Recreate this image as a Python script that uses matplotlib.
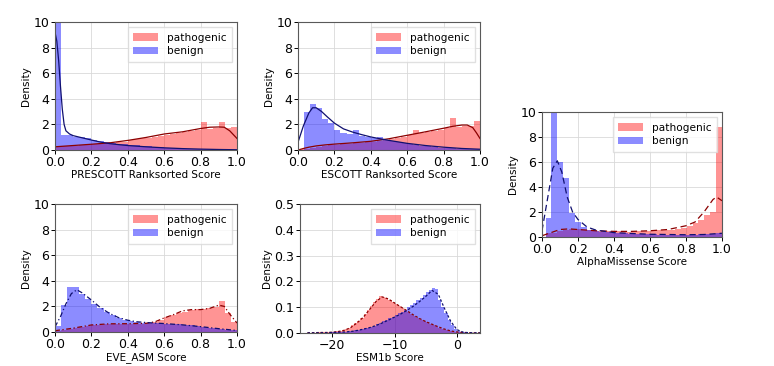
import numpy as np
import matplotlib
matplotlib.use("Agg")
import matplotlib.pyplot as plt
from matplotlib.patches import Patch

# ---- PRESCOTT ranksorted score (30 bins on [0, 1]) ----
prescott_path = [0.25, 0.28, 0.30, 0.33, 0.36, 0.40, 0.44, 0.48, 0.52, 0.56,
                 0.60, 0.66, 0.80, 0.86, 0.90, 0.95, 1.05, 1.12, 1.20, 1.28,
                 1.33, 1.38, 1.45, 1.55, 2.20, 1.65, 1.70, 2.20, 1.75, 1.80]
prescott_ben = [12.0, 1.15, 1.15, 1.05, 0.98, 0.90, 0.82, 0.74, 0.66, 0.58,
                0.50, 0.45, 0.40, 0.36, 0.32, 0.28, 0.24, 0.20, 0.17, 0.15,
                0.13, 0.11, 0.09, 0.08, 0.07, 0.06, 0.05, 0.04, 0.03, 0.02]
prescott_kde_p_x = [0, 0.1, 0.2, 0.3, 0.4, 0.5, 0.6, 0.7, 0.8, 0.85, 0.9, 0.93, 0.96, 1.0]
prescott_kde_p_y = [0.25, 0.35, 0.45, 0.56, 0.75, 0.98, 1.25, 1.42, 1.68, 1.78, 1.80, 1.78, 1.50, 0.90]
prescott_kde_b_x = [0, 0.01, 0.02, 0.03, 0.04, 0.05, 0.06, 0.08, 0.1, 0.15, 0.2, 0.25,
                    0.3, 0.35, 0.4, 0.5, 0.6, 0.7, 0.8, 0.9, 1.0]
prescott_kde_b_y = [9.2, 8.5, 7.0, 5.0, 3.2, 2.0, 1.5, 1.25, 1.12, 0.95, 0.78, 0.62,
                    0.50, 0.42, 0.35, 0.25, 0.17, 0.11, 0.07, 0.04, 0.02]

# ---- ESCOTT ranksorted score ----
escott_path = [0.05, 0.10, 0.18, 0.26, 0.32, 0.37, 0.42, 0.46, 0.50, 0.53,
               0.57, 0.61, 0.66, 0.72, 0.80, 0.88, 0.96, 1.04, 1.15, 1.60,
               1.30, 1.40, 1.50, 1.60, 1.70, 2.50, 1.80, 1.90, 1.85, 2.30]
escott_ben = [0.0, 3.0, 3.6, 3.25, 2.45, 2.1, 1.6, 1.35, 1.25, 1.55,
              1.10, 1.00, 0.92, 1.00, 0.78, 0.70, 0.62, 0.55, 0.48, 0.40,
              0.34, 0.28, 0.23, 0.19, 0.15, 0.12, 0.09, 0.07, 0.05, 0.04]
escott_kde_p_x = [0, 0.03, 0.06, 0.1, 0.15, 0.2, 0.3, 0.4, 0.5, 0.6, 0.7, 0.8,
                  0.85, 0.9, 0.93, 0.96, 0.98, 1.0]
escott_kde_p_y = [0.0, 0.12, 0.22, 0.32, 0.40, 0.46, 0.56, 0.68, 0.88, 1.15, 1.42, 1.70,
                  1.85, 1.95, 1.95, 1.75, 1.35, 0.90]
escott_kde_b_x = [0, 0.03, 0.06, 0.08, 0.1, 0.13, 0.16, 0.2, 0.25, 0.3, 0.35, 0.4,
                  0.45, 0.5, 0.6, 0.7, 0.8, 0.9, 1.0]
escott_kde_b_y = [0.6, 1.9, 2.9, 3.3, 3.3, 3.0, 2.6, 2.1, 1.65, 1.4, 1.2, 1.02,
                  0.88, 0.75, 0.52, 0.35, 0.22, 0.12, 0.06]

# ---- AlphaMissense score (30 bins on [0.02, 1]) ----
am_path = [0.30, 0.35, 0.50, 0.60, 0.65, 0.62, 0.58, 0.55, 0.52, 0.50,
           0.48, 0.46, 0.45, 0.44, 0.44, 0.45, 0.46, 0.48, 0.50, 0.53,
           0.56, 0.60, 0.66, 0.75, 0.88, 1.10, 1.40, 1.80, 2.00, 8.80]
am_ben = [1.5, 11.0, 6.0, 4.7, 1.9, 1.2, 0.8, 0.6, 0.5, 0.42,
          0.38, 0.35, 0.32, 0.30, 0.28, 0.26, 0.24, 0.22, 0.21, 0.20,
          0.19, 0.18, 0.18, 0.18, 0.19, 0.20, 0.22, 0.24, 0.26, 0.30]
am_kde_p_x = [0, 0.05, 0.1, 0.15, 0.2, 0.3, 0.4, 0.5, 0.6, 0.7, 0.8, 0.85, 0.9, 0.95, 0.97, 1.0]
am_kde_p_y = [0.1, 0.35, 0.6, 0.65, 0.6, 0.5, 0.45, 0.45, 0.5, 0.6, 0.9, 1.2, 2.0, 3.0, 3.2, 2.9]
am_kde_b_x = [0, 0.03, 0.06, 0.085, 0.11, 0.14, 0.17, 0.2, 0.25, 0.3, 0.4, 0.5,
              0.6, 0.7, 0.8, 0.9, 0.95, 1.0]
am_kde_b_y = [0.5, 3.0, 5.5, 6.1, 5.2, 3.2, 2.0, 1.4, 0.8, 0.55, 0.35, 0.28,
              0.22, 0.20, 0.18, 0.20, 0.25, 0.30]

# ---- EVE_ASM score ----
eve_path = [0.10, 0.15, 0.22, 0.30, 0.38, 0.45, 0.52, 0.58, 0.62, 0.64,
            0.65, 0.65, 0.65, 0.65, 0.66, 0.70, 0.80, 0.95, 1.15, 1.30,
            1.45, 1.60, 1.72, 1.78, 1.80, 1.85, 1.95, 2.40, 1.50, 0.80]
eve_ben = [0.5, 2.1, 3.5, 3.5, 3.0, 2.6, 2.2, 1.85, 1.55, 1.30,
           1.10, 0.95, 0.85, 0.78, 0.74, 0.72, 0.70, 0.68, 0.66, 0.64,
           0.60, 0.56, 0.52, 0.46, 0.40, 0.34, 0.28, 0.22, 0.16, 0.12]
eve_kde_p_x = [0, 0.1, 0.2, 0.3, 0.4, 0.5, 0.55, 0.6, 0.65, 0.7, 0.75, 0.8, 0.85, 0.9, 0.93, 0.96, 1.0]
eve_kde_p_y = [0.1, 0.3, 0.55, 0.64, 0.65, 0.68, 0.8, 1.1, 1.35, 1.65, 1.75, 1.75, 1.85, 2.1, 2.0, 1.4, 0.7]
eve_kde_b_x = [0, 0.03, 0.06, 0.09, 0.12, 0.15, 0.2, 0.25, 0.3, 0.35, 0.4, 0.45,
               0.5, 0.55, 0.6, 0.7, 0.8, 0.9, 1.0]
eve_kde_b_y = [0.4, 1.2, 2.2, 3.0, 3.3, 3.05, 2.5, 1.9, 1.45, 1.12, 0.92, 0.8,
               0.74, 0.7, 0.66, 0.56, 0.42, 0.26, 0.12]

# ---- ESM1b score (bins of 0.5 on [-24, 4]) ----
esm_path = [0.001, 0.001, 0.001, 0.002, 0.002, 0.002, 0.003, 0.003, 0.004, 0.006,
            0.008, 0.010, 0.014, 0.020, 0.030, 0.038, 0.047, 0.060, 0.072, 0.088,
            0.105, 0.120, 0.133, 0.142, 0.139, 0.134, 0.127, 0.119, 0.111, 0.104,
            0.096, 0.089, 0.081, 0.073, 0.065, 0.058, 0.052, 0.046, 0.041, 0.036,
            0.031, 0.026, 0.021, 0.017, 0.013, 0.009, 0.006, 0.004, 0.003, 0.002,
            0.001, 0.001, 0.001, 0.0005, 0.0005, 0.0003]
esm_ben = [0.0005, 0.0005, 0.0005, 0.001, 0.001, 0.001, 0.0015, 0.002, 0.002, 0.003,
           0.003, 0.004, 0.005, 0.006, 0.008, 0.010, 0.012, 0.015, 0.018, 0.021,
           0.025, 0.029, 0.034, 0.039, 0.045, 0.051, 0.057, 0.063, 0.069, 0.076,
           0.083, 0.091, 0.099, 0.108, 0.117, 0.127, 0.137, 0.147, 0.157, 0.168,
           0.176, 0.172, 0.128, 0.100, 0.078, 0.052, 0.030, 0.015, 0.008, 0.004,
           0.002, 0.0015, 0.001, 0.0005, 0.0005, 0.0003]
esm_kde_x = [-24, -23, -22, -21, -20, -19, -18, -17, -16, -15, -14, -13, -12, -11, -10,
             -9, -8, -7, -6, -5, -4, -3, -2, -1, 0, 1, 2, 3, 4]
esm_kde_p_y = [0.001, 0.001, 0.002, 0.002, 0.003, 0.006, 0.011, 0.022, 0.040, 0.062,
               0.092, 0.122, 0.140, 0.132, 0.116, 0.101, 0.086, 0.070, 0.056, 0.044,
               0.034, 0.024, 0.015, 0.008, 0.004, 0.002, 0.001, 0.0005, 0.0003]
esm_kde_b_y = [0.0005, 0.0005, 0.001, 0.001, 0.002, 0.003, 0.004, 0.006, 0.010, 0.015,
               0.021, 0.029, 0.039, 0.050, 0.062, 0.074, 0.088, 0.104, 0.122, 0.142,
               0.165, 0.150, 0.095, 0.045, 0.013, 0.003, 0.001, 0.0005, 0.0003]

RED, BLUE = "#ff0000", "#0000ff"
DARKRED, NAVY = "#8b0000", "#101070"
W, H = 774, 366

fig = plt.figure(figsize=(W / 100, H / 100), dpi=100)


def rect(x0, y0, x1, y1):
    # pixel box -> figure fraction
    return [x0 / W, 1 - y1 / H, (x1 - x0) / W, (y1 - y0) / H]


def panel(box, edges, path, ben, kp, kb, ls, xlabel, ylim, yticks, xlim=(0, 1), xticks=None):
    ax = fig.add_axes(rect(*box))
    ax.stairs(path, edges, fill=True, color=RED, alpha=0.42, lw=0)
    ax.stairs(ben, edges, fill=True, color=BLUE, alpha=0.45, lw=0)
    ax.plot(kp[0], kp[1], color=DARKRED, ls=ls, lw=0.9)
    ax.plot(kb[0], kb[1], color=NAVY, ls=ls, lw=0.9)
    ax.set_xlim(*xlim)
    ax.set_ylim(*ylim)
    ax.set_yticks(yticks)
    if xticks is not None:
        ax.set_xticks(xticks)
    ax.grid(True, color="0.85", lw=0.6)
    ax.set_axisbelow(True)
    ax.tick_params(labelsize=9, length=3, width=0.7, pad=1)
    for s in ax.spines.values():
        s.set_color("0.35")
        s.set_linewidth(0.8)
    ax.set_xlabel(xlabel, fontsize=7.5, labelpad=1)
    ax.set_ylabel("Density", fontsize=7.5, labelpad=2)
    handles = [Patch(color=RED, alpha=0.42, lw=0), Patch(color=BLUE, alpha=0.45, lw=0)]
    ax.legend(handles, ["pathogenic", "benign"], loc="upper right", fontsize=7.6,
              handlelength=2.4, borderpad=0.5, labelspacing=0.35, framealpha=0.8,
              edgecolor="0.85", fancybox=False)
    return ax


unit = np.linspace(0, 1, 31)
am_edges = np.linspace(0.02, 1, 31)
esm_edges = np.arange(-24, 4.01, 0.5)
yt10 = [0, 2, 4, 6, 8, 10]
xt01 = [0, 0.2, 0.4, 0.6, 0.8, 1.0]

panel((55, 22, 237, 150), unit, prescott_path, prescott_ben,
      (prescott_kde_p_x, prescott_kde_p_y), (prescott_kde_b_x, prescott_kde_b_y),
      "-", "PRESCOTT Ranksorted Score", (0, 10), yt10, xticks=xt01)
panel((298, 22, 480, 150), unit, escott_path, escott_ben,
      (escott_kde_p_x, escott_kde_p_y), (escott_kde_b_x, escott_kde_b_y),
      "-", "ESCOTT Ranksorted Score", (0, 10), yt10, xticks=xt01)
panel((542, 112, 722, 237), am_edges, am_path, am_ben,
      (am_kde_p_x, am_kde_p_y), (am_kde_b_x, am_kde_b_y),
      (0, (5, 3)), "AlphaMissense Score", (0, 10), yt10, xticks=xt01)
panel((55, 204, 237, 332), unit, eve_path, eve_ben,
      (eve_kde_p_x, eve_kde_p_y), (eve_kde_b_x, eve_kde_b_y),
      (0, (4, 2, 1, 2)), "EVE_ASM Score", (0, 10), yt10, xticks=xt01)
panel((300, 204, 480, 333), esm_edges, esm_path, esm_ben,
      (esm_kde_x, esm_kde_p_y), (esm_kde_x, esm_kde_b_y),
      (0, (2, 1.5)), "ESM1b Score", (0, 0.5), [0, 0.1, 0.2, 0.3, 0.4, 0.5],
      xlim=(-25.2, 3.7), xticks=[-20, -10, 0])

fig.savefig("out.png", dpi=100)
